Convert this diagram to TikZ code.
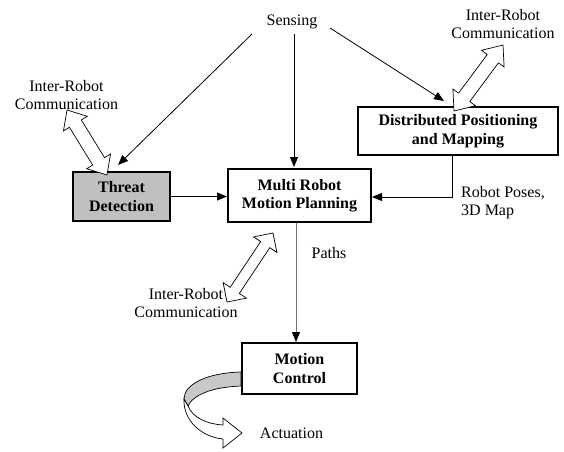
\documentclass[tikz,border=0pt]{standalone}
\usepackage{fontspec}
\setmainfont{Liberation Serif}
\usetikzlibrary{arrows.meta,calc}

\definecolor{boxgray}{RGB}{192,192,192}
\definecolor{ribbongray}{RGB}{200,200,200}

% hollow two-headed arrow between tips #1 and #2:
% head length #3, head half-width #4, shaft half-width #5
\newcommand\twowayarrow[5]{%
  \coordinate (tw-a) at ($(#1)!#3!(#2)$);
  \coordinate (tw-b) at ($(#2)!#3!(#1)$);
  \draw[hollow] (#1) -- ($(tw-a)!#4!90:(#2)$) -- ($(tw-a)!#5!90:(#2)$)
    -- ($(tw-b)!#5!-90:(#1)$) -- ($(tw-b)!#4!-90:(#1)$) -- (#2)
    -- ($(tw-b)!#4!90:(#1)$) -- ($(tw-b)!#5!90:(#1)$)
    -- ($(tw-a)!#5!-90:(#2)$) -- ($(tw-a)!#4!-90:(#2)$) -- cycle;
}

\begin{document}
\begin{tikzpicture}[x=1pt,y=-1pt,
  every node/.style={font=\fontsize{16}{18.5}\selectfont},
  box/.style={draw, line width=2pt, inner sep=0pt, align=center,
    font=\fontsize{16}{18.5}\selectfont\bfseries},
  label/.style={align=center, inner sep=0pt},
  arr/.style={line width=0.8pt, -{Triangle[length=10pt,width=8pt,color=black]}},
  hollow/.style={draw=black, line width=0.7pt, fill=white, line join=miter}]

\useasboundingbox (0,0) rectangle (564,451);

% processing blocks
\node[box, fill=boxgray, minimum width=97, minimum height=49] (threat) at (121.5,196.5) {Threat\\Detection};
\node[box, fill=white, minimum width=143, minimum height=53] (mrmp) at (299.5,195.5) {Multi Robot\\Motion Planning};
\node[box, fill=white, minimum width=200, minimum height=48] (dpm) at (458,131) {Distributed Positioning\\and Mapping};
\node[box, fill=white, minimum width=115, minimum height=51] (mc) at (299.5,368.5) {Motion\\Control};

% input
\node[label, anchor=base] (sensing) at (292,25) {Sensing};

% data flow
\draw[arr] ([shift={(-40,9)}]sensing.base) -- ([shift={(-3.5,-6)}]threat.north);
\draw[arr] ([shift={(2,9)}]sensing.base) -- ([shift={(-5.5,-1)}]mrmp.north);
\draw[arr] ([shift={(38,3)}]sensing.base) -- ([shift={(-14,-5)}]dpm.north);
\draw[arr] (threat.east) -- (threat.east -| mrmp.west);
\draw[arr] ([shift={(-6,0)}]dpm.south) |- ([shift={(0,1.5)}]mrmp.east);
\draw[arr, draw=black!55] ([shift={(-3.5,0)}]mrmp.south) -- ([shift={(-3.5,0)}]mc.north);

% inter-robot communication links
\coordinate (ltA) at (67,110);
\coordinate (ltB) at (107,175);
\twowayarrow{ltA}{ltB}{16pt}{14pt}{7pt}
\coordinate (rtA) at (454,111);
\coordinate (rtB) at (503,45);
\twowayarrow{rtA}{rtB}{17pt}{14pt}{7pt}
\coordinate (btA) at (227,302);
\coordinate (btB) at (273,233);
\twowayarrow{btA}{btB}{14pt}{14pt}{5.5pt}

% actuation ribbon arrow
\draw[line width=0.7pt, fill=ribbongray, line join=round]
  (241,372) .. controls (205,373) and (184,385) .. (184,399)
  -- (188,406) .. controls (193,395) and (212,387) .. (241,386) -- cycle;
\draw[hollow]
  (184,399) .. controls (183,421) and (202,437) .. (223,439)
  -- (223,448) -- (242,433) -- (223,418) -- (223,425)
  .. controls (207,424) and (193,418) .. (188,406) -- cycle;

% labels
\node[label] (comm1) at (66.5,95) {Inter-Robot\\Communication};
\node[label] (comm2) at (503,24) {Inter-Robot\\Communication};
\node[label] (comm3) at (186,303) {Inter-Robot\\Communication};
\node[label, align=left, anchor=west] (poses) at (461,202.5) {Robot Poses,\\3D Map};
\node[label, anchor=base] (paths) at (329,258) {Paths};
\node[label, anchor=base] (act) at (291.5,438) {Actuation};

\end{tikzpicture}
\end{document}
